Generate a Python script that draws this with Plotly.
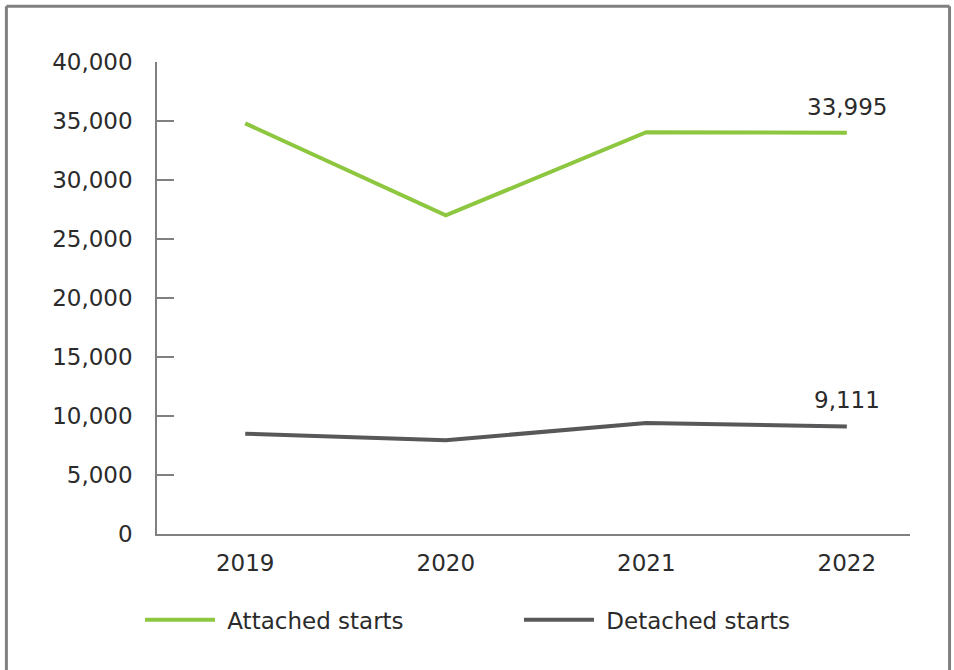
import plotly.graph_objects as go

years = [2019, 2020, 2021, 2022]
attached_starts = [34800, 27000, 34050, 33995]
detached_starts = [8500, 7950, 9400, 9111]
y_ticks = [0, 5000, 10000, 15000, 20000, 25000, 30000, 35000, 40000]

GREEN = "#8DC63F"
GREY = "#58585A"
AXIS = "#808080"
TEXT = "#2b2b2b"
FONT = "DejaVu Sans"
FS = 23

fig = go.Figure()
fig.add_trace(go.Scatter(x=years, y=attached_starts, mode="lines", name="\u00a0Attached starts",
                         line=dict(color=GREEN, width=4), legend="legend"))
fig.add_trace(go.Scatter(x=years, y=detached_starts, mode="lines", name="\u00a0Detached starts",
                         line=dict(color=GREY, width=4), legend="legend2"))

# value callouts on the final year
for series in (attached_starts, detached_starts):
    fig.add_annotation(x=years[-1], y=series[-1], text=f"{series[-1]:,}", showarrow=False,
                       yshift=26, font=dict(family=FONT, size=FS, color=TEXT))

# frame around the figure (open at the bottom edge)
frame = dict(type="line", xref="paper", yref="paper", line=dict(color=AXIS, width=3))
fig.add_shape(**frame, x0=-0.2, x1=-0.2, y0=-0.32, y1=1.118)
fig.add_shape(**frame, x0=-0.2, x1=1.0525, y0=1.118, y1=1.118)
fig.add_shape(**frame, x0=1.0525, x1=1.0525, y0=-0.32, y1=1.118)

legend_style = dict(orientation="h", xanchor="left", y=-0.182, yanchor="middle",
                    itemwidth=70, font=dict(family=FONT, size=FS, color=TEXT),
                    bgcolor="rgba(0,0,0,0)")

fig.update_layout(
    width=954, height=670,
    margin=dict(l=157, r=44, t=62, b=136),
    paper_bgcolor="white", plot_bgcolor="white",
    font=dict(family=FONT, size=FS, color=TEXT),
    showlegend=True,
    legend=dict(x=-0.0226, **legend_style),
    legend2=dict(x=0.4807, **legend_style),
    xaxis=dict(range=[2018.56, 2022.315], tickvals=years, ticktext=[str(y) for y in years],
               showgrid=False, zeroline=False, showline=True, linecolor=AXIS, linewidth=1.5,
               ticks="", ticklabelstandoff=8, fixedrange=True),
    yaxis=dict(range=[0, 40000], tickvals=y_ticks, tickformat=",d",
               showgrid=False, zeroline=False, showline=True, linecolor=AXIS, linewidth=1.5,
               ticks="inside", ticklen=17, tickcolor=AXIS, tickwidth=1.5,
               ticklabelstandoff=18, fixedrange=True),
)

fig.write_html("out.html")
